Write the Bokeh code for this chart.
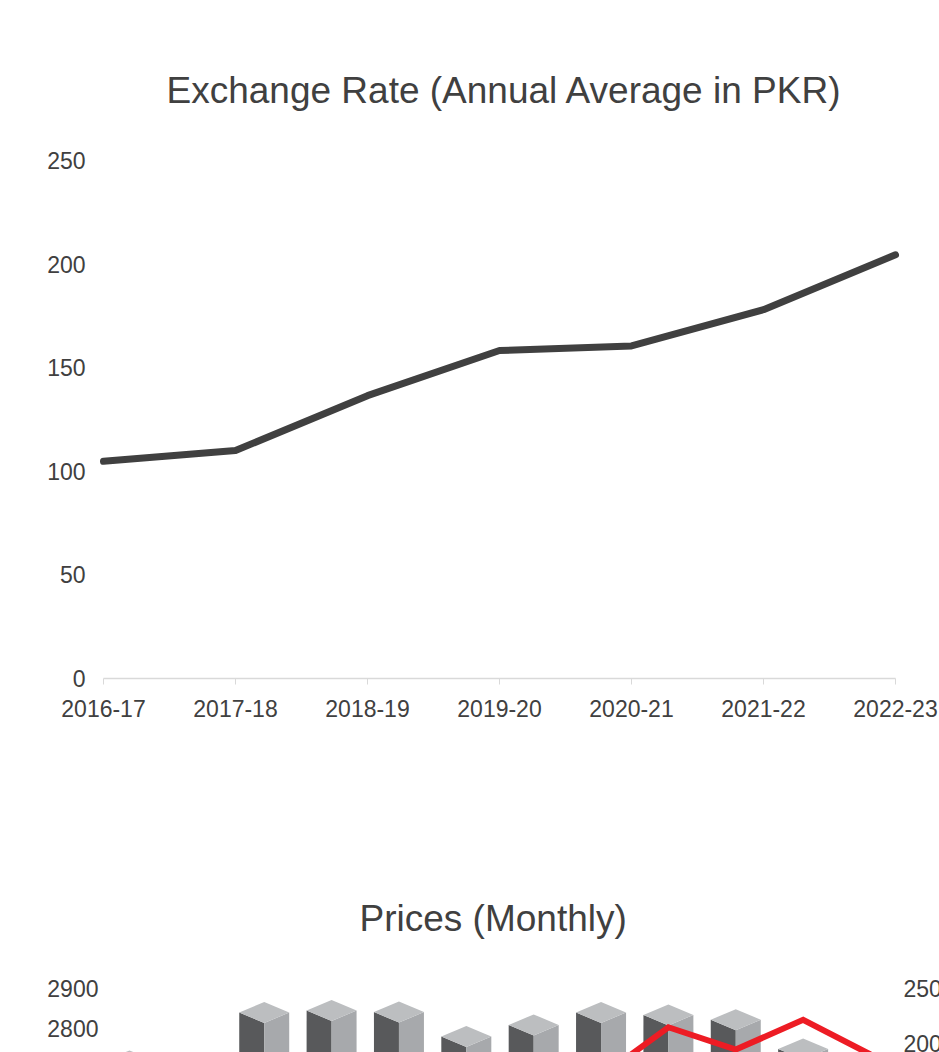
from bokeh.plotting import figure
from bokeh.layouts import column
from bokeh.models import Range1d, FixedTicker, Label
from bokeh.embed import file_html
from bokeh.resources import INLINE

# ---------------- data ----------------
years = ["2016-17", "2017-18", "2018-19", "2019-20", "2020-21", "2021-22", "2022-23"]
exchange_rate = [104.8, 110.0, 136.5, 158.3, 160.5, 178.0, 204.5]
rate_ticks = [0, 50, 100, 150, 200, 250]

months = list(range(12))
price_bars = [2719, 2690, 2840, 2845, 2841, 2780, 2809, 2840, 2834, 2822, 2749, 2680]
price_line = [165, 168, 170, 172, 168, 166, 168, 170, 214.8, 194.5, 221.5, 190]
left_ticks = [2800, 2900]
right_ticks = [200, 250]

TEXT = "#404040"
FONT = "Liberation Sans"
W = 939
MBL, MBR = 98, 0

def style_axis(ax, size="23px"):
    ax.major_label_text_font = FONT
    ax.major_label_text_font_size = size
    ax.major_label_text_color = TEXT
    ax.minor_tick_line_color = None

def style_title(t, offset, standoff):
    t.text_font = FONT
    t.text_font_size = "37px"
    t.text_font_style = "normal"
    t.text_color = TEXT
    t.align = "left"
    t.offset = offset
    t.standoff = standoff

# ---------------- figure 1 ----------------
p1 = figure(width=W, height=760, output_backend="svg", toolbar_location=None,
            x_range=Range1d(-0.0379, 6.3333), y_range=Range1d(-1.93, 250),
            min_border_left=MBL, min_border_right=MBR, min_border_top=160, min_border_bottom=78,
            title="Exchange Rate (Annual Average in PKR)")
style_title(p1.title, 68, 100)
p1.outline_line_color = None
p1.grid.visible = False

xa = p1.xaxis[0]
style_axis(xa)
xa.ticker = FixedTicker(ticks=list(range(len(years))))
xa.major_label_overrides = {i: y for i, y in enumerate(years)}
xa.axis_line_color = None
xa.major_tick_line_color = "#d9d9d9"
xa.major_tick_in = 4
xa.major_tick_out = 2
xa.major_label_standoff = 15

ya = p1.yaxis[0]
style_axis(ya)
ya.ticker = FixedTicker(ticks=rate_ticks)
ya.axis_line_color = None
ya.major_tick_line_color = None
ya.major_tick_out = 0
ya.major_tick_in = 0
ya.major_label_standoff = 13

# category axis line spanning first to last year
p1.segment(x0=[0], y0=[0], x1=[len(years) - 1], y1=[0], line_color="#d9d9d9", line_width=1.5)
p1.line(list(range(len(years))), exchange_rate, line_width=7, line_color="#404040",
        line_join="round", line_cap="round")

# ---------------- figure 2 ----------------
p2 = figure(width=W, height=292, output_backend="svg", toolbar_location=None,
            x_range=Range1d(-0.4602, 12.0244), y_range=Range1d(2740, 2945),
            min_border_left=MBL, min_border_right=MBR, min_border_top=210, min_border_bottom=0,
            title="Prices (Monthly)")
p2.extra_y_ranges = {"right": Range1d(191.82, 266.36)}
style_title(p2.title, 261, 64)
p2.outline_line_color = None
p2.grid.visible = False
p2.xaxis.visible = False

la = p2.yaxis[0]
style_axis(la)
la.ticker = FixedTicker(ticks=left_ticks)
la.axis_line_color = None
la.major_tick_line_color = None
la.major_tick_out = 0
la.major_tick_in = 0
la.major_label_standoff = 0

# 3D column faces computed from the bar values
hw = 0.371   # half width in x units
dep = 26.25  # half height of the top rhombus in value units
base = 2000
lx, ly, rx, ry, tx, ty = [], [], [], [], [], []
for k, v in zip(months, price_bars):
    lx.append([k - hw, k, k, k - hw]); ly.append([v, v - dep, base, base])
    rx.append([k, k + hw, k + hw, k]); ry.append([v - dep, v, base, base])
    tx.append([k - hw, k, k + hw, k]); ty.append([v, v + dep, v, v - dep])
p2.patches(lx, ly, fill_color="#58595b", line_color=None)
p2.patches(rx, ry, fill_color="#a7a9ac", line_color=None)
p2.patches(tx, ty, fill_color="#bcbec0", line_color=None)

p2.line(months, price_line, y_range_name="right", line_width=6, line_color="#ed1c24",
        line_join="miter")

# right-hand value axis labels, inside the right margin of the plot area
for t in right_ticks:
    p2.add_layout(Label(x=p2.x_range.end, y=t, y_range_name="right", x_offset=-36,
                        text=str(t), text_font=FONT, text_font_size="23px",
                        text_color=TEXT, text_align="left", text_baseline="middle"))

layout = column(p1, p2, spacing=0)
open("out.html", "w").write(file_html(layout, INLINE))
